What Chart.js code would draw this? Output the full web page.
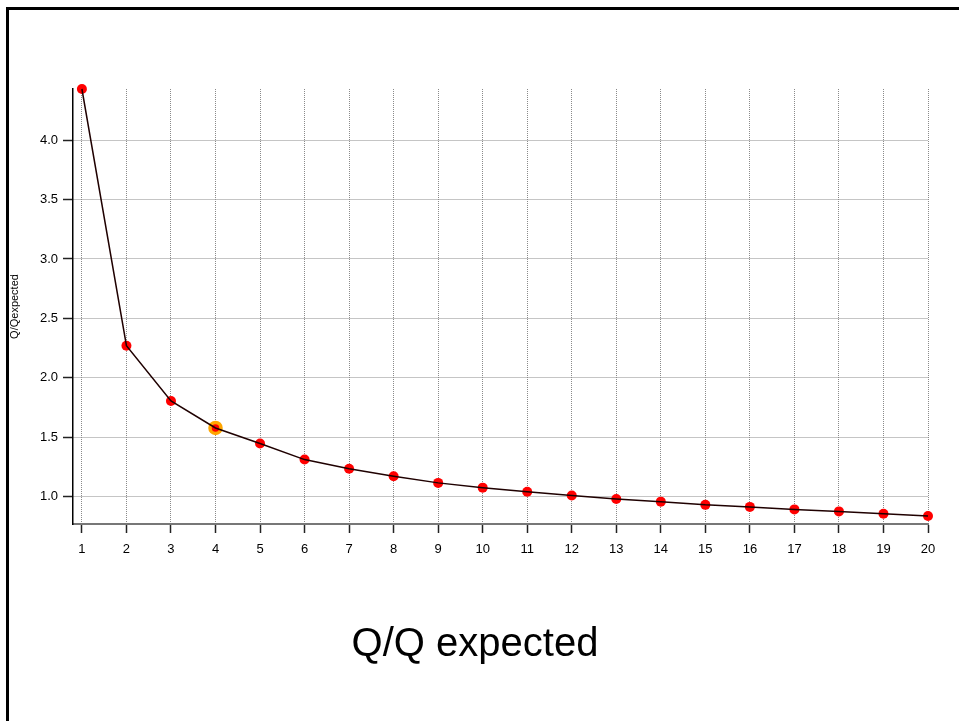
<!DOCTYPE html>
<html>
<head>
<meta charset="utf-8">
<script src="https://cdn.jsdelivr.net/npm/chart.js@4"></script>
<style>
    body { margin: 0; overflow: hidden; background: #fff; font-family: "Liberation Sans", Arial, sans-serif; }
    .frame { position: absolute; left: 6px; top: 7px; width: 1000px; height: 800px; border: 3px solid #000; }
    #chart { position: absolute; left: 0; top: 0; }
    .bottom-title { position: absolute; left: 0; width: 950px; top: 622px; line-height: 40px; font-size: 40px; text-align: center; color: #000; }
</style>
</head>
<body>
<div class="frame"></div>
<canvas id="chart" width="959" height="721"></canvas>
<div class="bottom-title">Q/Q expected</div>
<script>
// chart data
const xValues = [1, 2, 3, 4, 5, 6, 7, 8, 9, 10, 11, 12, 13, 14, 15, 16, 17, 18, 19, 20];
const qRatio = [4.43, 2.27, 1.805, 1.578, 1.448, 1.312, 1.235, 1.172, 1.116, 1.076,
                1.042, 1.01, 0.981, 0.958, 0.931, 0.914, 0.893, 0.876, 0.856, 0.838];
const yTicks = [1.0, 1.5, 2.0, 2.5, 3.0, 3.5, 4.0];
const highlightIndex = 3;

const points = xValues.map((x, i) => ({ x: x, y: qRatio[i] }));
const font = { family: '"Liberation Sans", Arial, sans-serif', size: 13 };

const ctx = document.getElementById('chart').getContext('2d');
new Chart(ctx, {
    type: 'scatter',
    data: {
        datasets: [
            {
                // line on top of the markers
                data: points,
                showLine: true,
                borderColor: '#1f0000',
                borderWidth: 1.5,
                pointRadius: 0,
                tension: 0,
                clip: false
            },
            {
                data: points,
                showLine: false,
                backgroundColor: '#ff0000',
                pointRadius: xValues.map((x, i) => i === highlightIndex ? 5.5 : 5),
                pointBorderWidth: xValues.map((x, i) => i === highlightIndex ? 3.5 : 0),
                pointBorderColor: xValues.map((x, i) => i === highlightIndex ? '#ffa500' : '#ff0000'),
                clip: false
            }
        ]
    },
    options: {
        responsive: false,
        animation: false,
        layout: { padding: { top: 89, right: 31, bottom: 157, left: 0 } },
        plugins: { legend: { display: false }, tooltip: { enabled: false } },
        scales: {
            x: {
                type: 'linear',
                min: 0.8,
                max: 20,
                afterBuildTicks: scale => { scale.ticks = xValues.map(v => ({ value: v })); },
                afterFit: scale => { scale.height = 40; },
                ticks: { font: font, color: '#000', padding: 9, maxRotation: 0, autoSkip: false,
                         callback: v => String(v) },
                grid: { color: '#8a8a8a', lineWidth: 1, tickLength: 9, tickColor: '#222', tickWidth: 1.5 },
                border: { color: '#777', width: 2, dash: [1, 1] }
            },
            y: {
                min: 0.77,
                max: 4.43,
                afterBuildTicks: scale => { scale.ticks = yTicks.map(v => ({ value: v })); },
                afterFit: scale => { scale.width = 73; },
                ticks: { font: font, color: '#000', padding: 5, callback: v => v.toFixed(1) },
                grid: { color: '#8a8a8a', lineWidth: 1, tickLength: 10, tickColor: '#222', tickWidth: 1.5 },
                border: { color: '#000', width: 1.5, dash: [1, 1] },
                title: {
                    display: true,
                    text: 'Q/Qexpected',
                    color: '#000',
                    font: { family: '"Liberation Sans", Arial, sans-serif', size: 11 },
                    padding: { top: 8, bottom: 0 }
                }
            }
        }
    }
});
</script>
</body>
</html>
